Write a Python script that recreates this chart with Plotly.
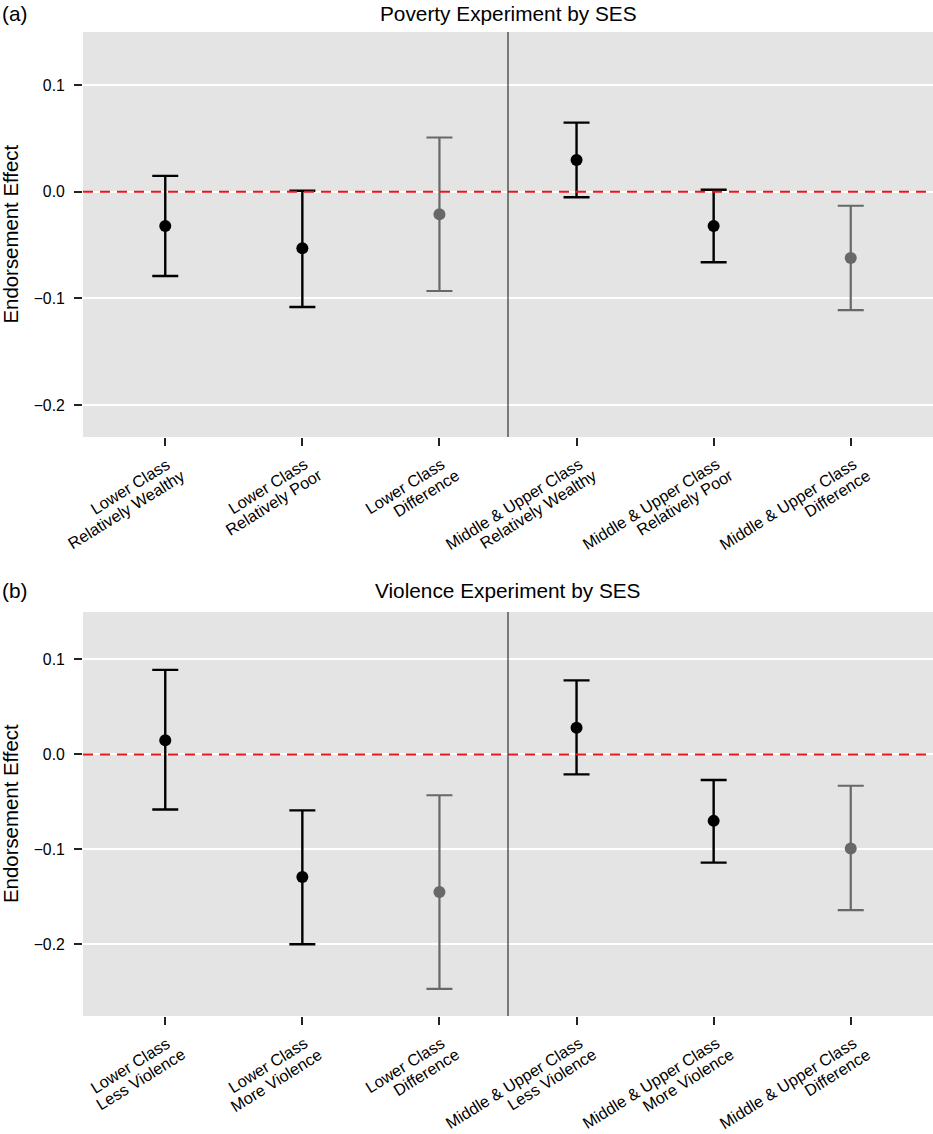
import math
import plotly.graph_objects as go

# panel (a): poverty experiment
labels_a = ["Lower Class<br>Relatively Wealthy", "Lower Class<br>Relatively Poor",
            "Lower Class<br>Difference", "Middle & Upper Class<br>Relatively Wealthy",
            "Middle & Upper Class<br>Relatively Poor", "Middle & Upper Class<br>Difference"]
est_a = [-0.032, -0.053, -0.021, 0.030, -0.032, -0.062]
lo_a = [-0.079, -0.108, -0.093, -0.005, -0.066, -0.111]
hi_a = [0.015, 0.001, 0.051, 0.065, 0.002, -0.013]

# panel (b): violence experiment
labels_b = ["Lower Class<br>Less Violence", "Lower Class<br>More Violence",
            "Lower Class<br>Difference", "Middle & Upper Class<br>Less Violence",
            "Middle & Upper Class<br>More Violence", "Middle & Upper Class<br>Difference"]
est_b = [0.015, -0.129, -0.145, 0.028, -0.070, -0.099]
lo_b = [-0.058, -0.200, -0.247, -0.021, -0.114, -0.164]
hi_b = [0.089, -0.059, -0.043, 0.078, -0.027, -0.033]

titles = ["Poverty Experiment by SES", "Violence Experiment by SES"]
tags = ["(a)", "(b)"]

BLACK = "#000000"
GREY = "#686868"
FONT = "Liberation Sans, Arial, Helvetica, sans-serif"

fig = go.Figure()


def add_panel(labels, est, lo, hi, xa, ya):
    for diff in (False, True):
        idx = [i for i, l in enumerate(labels) if ("Difference" in l) == diff]
        col = GREY if diff else BLACK
        fig.add_trace(go.Scatter(
            x=[labels[i] for i in idx], y=[est[i] for i in idx],
            xaxis=xa, yaxis=ya, mode="markers", showlegend=False,
            marker=dict(size=12, color=col),
            error_y=dict(type="data", symmetric=False,
                         array=[hi[i] - est[i] for i in idx],
                         arrayminus=[est[i] - lo[i] for i in idx],
                         color=col, thickness=2.4 if not diff else 2.2, width=13),
        ))


add_panel(labels_a, est_a, lo_a, hi_a, "x", "y")
add_panel(labels_b, est_b, lo_b, hi_b, "x2", "y2")

axis_common = dict(showline=False, zeroline=False, ticks="outside", ticklen=8,
                   tickwidth=2, tickcolor="#222222", automargin=False)
yfont = dict(family=FONT, size=15.8, color="#000000")
yticks = [-0.2, -0.1, 0.0, 0.1]
ytext = ["\u22120.2", "\u22120.1", "0.0", "0.1"]

fig.update_layout(
    width=933, height=1134,
    margin=dict(l=83, r=0, t=32, b=118),
    paper_bgcolor="white", plot_bgcolor="#E4E4E4",
    font=dict(family=FONT, color="#000000"),
    xaxis=dict(domain=[0, 1], anchor="y", type="category", categoryorder="array",
               categoryarray=labels_a, range=[-0.6, 5.6], showgrid=False,
               showticklabels=False, **axis_common),
    yaxis=dict(domain=[0.5884, 1], anchor="x", range=[-0.23, 0.15],
               tickvals=yticks, ticktext=ytext, tickfont=yfont, ticklabelstandoff=6,
               showgrid=True, gridcolor="white", gridwidth=1.5, **axis_common),
    xaxis2=dict(domain=[0, 1], anchor="y2", type="category", categoryorder="array",
                categoryarray=labels_b, range=[-0.6, 5.6], showgrid=False,
                showticklabels=False, **axis_common),
    yaxis2=dict(domain=[0, 0.4106], anchor="x2", range=[-0.2755, 0.15],
                tickvals=yticks, ticktext=ytext, tickfont=yfont, ticklabelstandoff=6,
                showgrid=True, gridcolor="white", gridwidth=1.5, **axis_common),
)

# reference line at zero and the divider between lower and middle/upper class
for xr, yr in (("x", "y"), ("x2", "y2")):
    fig.add_shape(type="line", xref=xr + " domain", yref=yr, x0=0, x1=1, y0=0, y1=0,
                  line=dict(color="#E8161C", width=2, dash="10px,7px"), layer="above")
    fig.add_shape(type="line", xref=xr, yref=yr + " domain", x0=2.5, x1=2.5, y0=0, y1=1,
                  line=dict(color="#333333", width=1.2), layer="above")

# rotated category labels, one annotation per line
ANG = 32
LINE = 17.3   # spacing between the two lines
ALONG = 6.5   # second line sits a little further along the text direction
s, c = math.sin(math.radians(ANG)), math.cos(math.radians(ANG))
for labels, xr, yr in ((labels_a, "x", "y"), (labels_b, "x2", "y2")):
    for lab in labels:
        for j, part in enumerate(lab.split("<br>")):
            fig.add_annotation(text=part, xref=xr, yref=yr + " domain", x=lab, y=0,
                               xanchor="right", yanchor="top", textangle=-ANG,
                               xshift=9.5 + j * (LINE * s + ALONG * c),
                               yshift=-16 - j * (LINE * c - ALONG * s),
                               showarrow=False, borderpad=0,
                               font=dict(family=FONT, size=16.3, color="#000000"))

# panel titles, tags and y-axis titles
title_y = [1.0193, 0.4329]
mid_y = [(0.5884 + 1) / 2, 0.4106 / 2]
for k in range(2):
    fig.add_annotation(text=titles[k], xref="paper", yref="paper", x=0.5, y=title_y[k],
                       showarrow=False, xanchor="center", yanchor="middle",
                       font=dict(family=FONT, size=20.8, color="#000000"))
    fig.add_annotation(text=tags[k], xref="paper", yref="paper", x=-83 / 850, y=title_y[k],
                       showarrow=False, xanchor="left", yanchor="middle",
                       font=dict(family=FONT, size=20.8, color="#000000"))
    fig.add_annotation(text="Endorsement Effect", xref="paper", yref="paper", x=0,
                       xshift=-72, y=mid_y[k], textangle=-90, showarrow=False,
                       xanchor="center", yanchor="middle",
                       font=dict(family=FONT, size=20.4, color="#000000"))

fig.write_html("out.html", config={"displayModeBar": False},
               post_script="document.body.style.margin='0';document.body.style.overflow='hidden';")
